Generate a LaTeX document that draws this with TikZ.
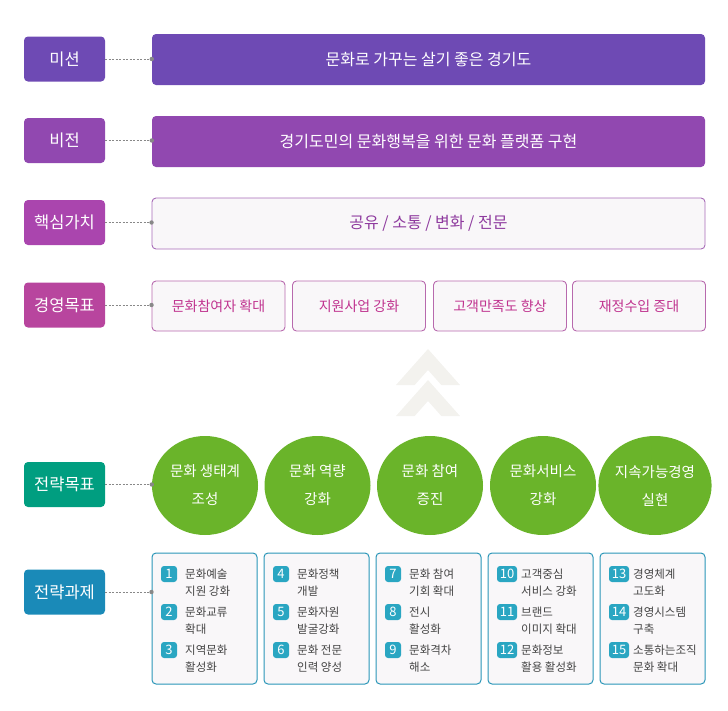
\documentclass[tikz,border=0pt]{standalone}
\usepackage{fontspec}
\setmainfont{Noto Sans CJK KR}
\usetikzlibrary{shapes.geometric}
\definecolor{cmission}{HTML}{6E4AB4}
\definecolor{cvision}{HTML}{9148B0}
\definecolor{ccore}{HTML}{AA45AE}
\definecolor{cgoal}{HTML}{B8459E}
\definecolor{cstrat}{HTML}{009E80}
\definecolor{ctask}{HTML}{1A8AB8}
\definecolor{ccoreline}{HTML}{A86CB8}
\definecolor{ccoretext}{HTML}{8E3A9E}
\definecolor{cgoalline}{HTML}{B86AAE}
\definecolor{cgoaltext}{HTML}{C0338F}
\definecolor{cellipse}{HTML}{6AB42A}
\definecolor{ctaskline}{HTML}{2A96B8}
\definecolor{cbadge}{HTML}{2AA6C2}
\definecolor{ctasktext}{HTML}{444444}
\definecolor{cchev}{HTML}{F3F2EE}
\definecolor{cpale}{HTML}{F9F7F9}
\definecolor{cconn}{HTML}{888888}
\newcommand\taskitem[6]{%
  \node[badge, minimum width=#4] (b#1) at (#2,#3) {#1};
  \node[tasktext, anchor=west] (t#1) at (#5,#3+8.5) {#6};
}
\begin{document}
\begin{tikzpicture}[x=1pt,y=-1pt,
  lab/.style={rectangle, rounded corners=4pt, minimum width=81pt, minimum height=45pt, text=white, font=\fontsize{16.5}{19}\selectfont, inner sep=0pt},
  mainbox/.style={rectangle, rounded corners=4pt, minimum width=553pt, minimum height=51pt, inner sep=0pt, font=\fontsize{16}{19}\selectfont},
  goalbox/.style={rectangle, rounded corners=4pt, draw=cgoalline, fill=cpale, line width=0.9pt, minimum width=133pt, minimum height=50pt, inner sep=0pt, text=cgoaltext, font=\fontsize{14}{17}\selectfont},
  strat/.style={ellipse, fill=cellipse, minimum width=106pt, minimum height=99pt, inner sep=0pt, text=white, align=center, font=\fontsize{14.5}{28}\selectfont},
  taskbox/.style={rectangle, rounded corners=4pt, draw=ctaskline, fill=cpale, line width=1pt, minimum width=105pt, minimum height=131pt, inner sep=0pt},
  badge/.style={rectangle, rounded corners=3pt, fill=cbadge, text=white, minimum height=16pt, inner sep=0pt, font=\fontsize{13}{13}\selectfont},
  tasktext/.style={inner sep=0pt, align=left, text=ctasktext, font=\fontsize{11.5}{17}\selectfont},
  conn/.style={draw=cconn, dash pattern=on 2pt off 1.5pt, line width=0.8pt},
  dotend/.style={fill=cconn}
]
\useasboundingbox (0,0) rectangle (728,710);

% labels
\node[lab, fill=cmission] (l1) at (64.5,59) {미션};
\node[lab, fill=cvision] (l2) at (64.5,140.5) {비전};
\node[lab, fill=ccore] (l3) at (64.5,222.5) {핵심가치};
\node[lab, fill=cgoal] (l4) at (64.5,305) {경영목표};
\node[lab, fill=cstrat] (l5) at (64.5,484.5) {전략목표};
\node[lab, fill=ctask] (l6) at (64.5,592) {전략과제};

% main boxes
\node[mainbox, fill=cmission, text=white] (m1) at (428.5,59.5) {문화로 가꾸는 살기 좋은 경기도};
\node[mainbox, fill=cvision, text=white] (m2) at (428.5,141.5) {경기도민의 문화행복을 위한 문화 플랫폼 구현};
\node[mainbox, fill=cpale, draw=ccoreline, line width=0.9pt, text=ccoretext] (m3) at (428.5,223.5) {공유 / 소통 / 변화 / 전문};

% goals
\node[goalbox] (g1) at (218.5,306) {문화참여자 확대};
\node[goalbox] (g2) at (359,306) {지원사업 강화};
\node[goalbox] (g3) at (500,306) {고객만족도 향상};
\node[goalbox] (g4) at (639,306) {재정수입 증대};

% chevrons
\fill[cchev] (396,385) -- (428,349) -- (460,385) -- (441.3,385) -- (428,370) -- (414.7,385) -- cycle;
\fill[cchev] (396,416) -- (428,380) -- (460,416) -- (441.3,416) -- (428,401) -- (414.7,416) -- cycle;

% strategic goals
\node[strat] (s1) at (205,485.5) {문화 생태계\\조성};
\node[strat] (s2) at (317.5,485.5) {문화 역량\\강화};
\node[strat] (s3) at (430,485.5) {문화 참여\\증진};
\node[strat] (s4) at (543,485.5) {문화서비스\\강화};
\node[strat] (s5) at (655,485.5) {지속가능경영\\실현};

% task boxes
\node[taskbox] (k1) at (204.5,618.5) {};
\node[taskbox] (k2) at (316.5,618.5) {};
\node[taskbox] (k3) at (428.5,618.5) {};
\node[taskbox] (k4) at (540.5,618.5) {};
\node[taskbox] (k5) at (652.5,618.5) {};

\taskitem{1}{169}{574}{16pt}{185}{문화예술\\지원 강화}
\taskitem{2}{169}{612}{16pt}{185}{문화교류\\확대}
\taskitem{3}{169}{650}{16pt}{185}{지역문화\\활성화}
\taskitem{4}{281}{574}{16pt}{297}{문화정책\\개발}
\taskitem{5}{281}{612}{16pt}{297}{문화자원\\발굴강화}
\taskitem{6}{281}{650}{16pt}{297}{문화 전문\\인력 양성}
\taskitem{7}{393}{574}{16pt}{409}{문화 참여\\기회 확대}
\taskitem{8}{393}{612}{16pt}{409}{전시\\활성화}
\taskitem{9}{393}{650}{16pt}{409}{문화격차\\해소}
\taskitem{10}{507}{574}{20pt}{521}{고객중심\\서비스 강화}
\taskitem{11}{507}{612}{20pt}{521}{브랜드\\이미지 확대}
\taskitem{12}{507}{650}{20pt}{521}{문화정보\\활용 활성화}
\taskitem{13}{619}{574}{20pt}{633}{경영체계\\고도화}
\taskitem{14}{619}{612}{20pt}{633}{경영시스템\\구축}
\taskitem{15}{619}{650}{20pt}{633}{소통하는조직\\문화 확대}

% connectors
\draw[conn] (l1.east) -- (l1.east -| m1.west);
\fill[dotend] (l1.east -| m1.west) circle (2.2pt);
\draw[conn] (l2.east) -- (l2.east -| m2.west);
\fill[dotend] (l2.east -| m2.west) circle (2.2pt);
\draw[conn] (l3.east) -- (l3.east -| m3.west);
\fill[dotend] (l3.east -| m3.west) circle (2.2pt);
\draw[conn] (l4.east) -- (l4.east -| g1.west);
\fill[dotend] (l4.east -| g1.west) circle (2.2pt);
\draw[conn] (l5.east) -- (l5.east -| s1.west);
\fill[dotend] (l5.east -| s1.west) circle (2.2pt);
\draw[conn] (l6.east) -- (l6.east -| k1.west);
\fill[dotend] (l6.east -| k1.west) circle (2.2pt);
\end{tikzpicture}
\end{document}
